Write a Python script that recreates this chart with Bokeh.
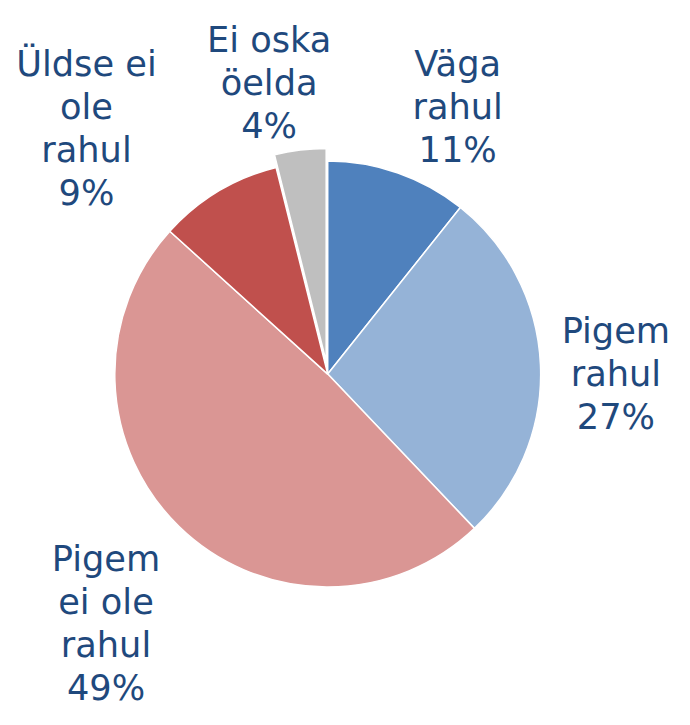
import math
from bokeh.plotting import figure
from bokeh.models import Range1d, ColumnDataSource
from bokeh.core.properties import value
from bokeh.embed import file_html
from bokeh.resources import INLINE

# ---- data ----
categories = ["Väga\nrahul", "Pigem\nrahul", "Pigem\nei ole\nrahul", "Üldse ei\nole\nrahul", "Ei oska\nöelda"]
shares = [10.7, 27.2, 48.8, 9.4, 3.9]
colors = ["#4F81BD", "#95B3D7", "#DA9694", "#C0504D", "#BFBFBF"]

# ---- layout (reference px, mapped onto the figure) ----
W, H = 674, 709
REF_W, REF_H = 690, 725
CX, CY, R = 335, 382, 218
explode = [0, 0, 0, 0, 13]
label_x = [468, 630, 108, 88, 275]
label_first_baseline = [64, 337, 571, 64, 40]
LINE_H = 44
FONT = "DejaVu Sans"
FONT_PX = 36 * W / REF_W
TEXT_COLOR = "#1F497D"

p = figure(width=W, height=H, output_backend="svg", toolbar_location=None,
           x_range=Range1d(0, REF_W), y_range=Range1d(-REF_H, 0),
           min_border=0, outline_line_color=None)
p.axis.visible = False
p.grid.visible = False
p.background_fill_color = "white"
p.border_fill_color = "white"

total = sum(shares)
xs, ys, starts, ends = [], [], [], []
cum = 0.0
for s, e in zip(shares, explode):
    a0 = cum / total
    cum += s
    a1 = cum / total
    start = math.pi / 2 - 2 * math.pi * a1
    end = math.pi / 2 - 2 * math.pi * a0
    mid = (start + end) / 2
    xs.append(CX + e * math.cos(mid))
    ys.append(-CY + e * math.sin(mid))
    starts.append(start)
    ends.append(end)

src = ColumnDataSource(dict(x=xs, y=ys, start=starts, end=ends, color=colors))
p.wedge(x="x", y="y", radius=R, start_angle="start", end_angle="end",
        fill_color="color", line_color="white", line_width=1.5, source=src)

tx, ty, tt = [], [], []
for cat, s, lx, lb in zip(categories, shares, label_x, label_first_baseline):
    lines = cat.split("\n") + [f"{round(s)}%"]
    for i, ln in enumerate(lines):
        tx.append(lx)
        ty.append(-(lb + i * LINE_H))
        tt.append(ln)

p.text(x=tx, y=ty, text=tt, text_font=value(FONT), text_font_size=f"{FONT_PX:.1f}px",
       text_color=TEXT_COLOR, text_align="center", text_baseline="alphabetic")

open("out.html", "w").write(file_html(p, INLINE))
